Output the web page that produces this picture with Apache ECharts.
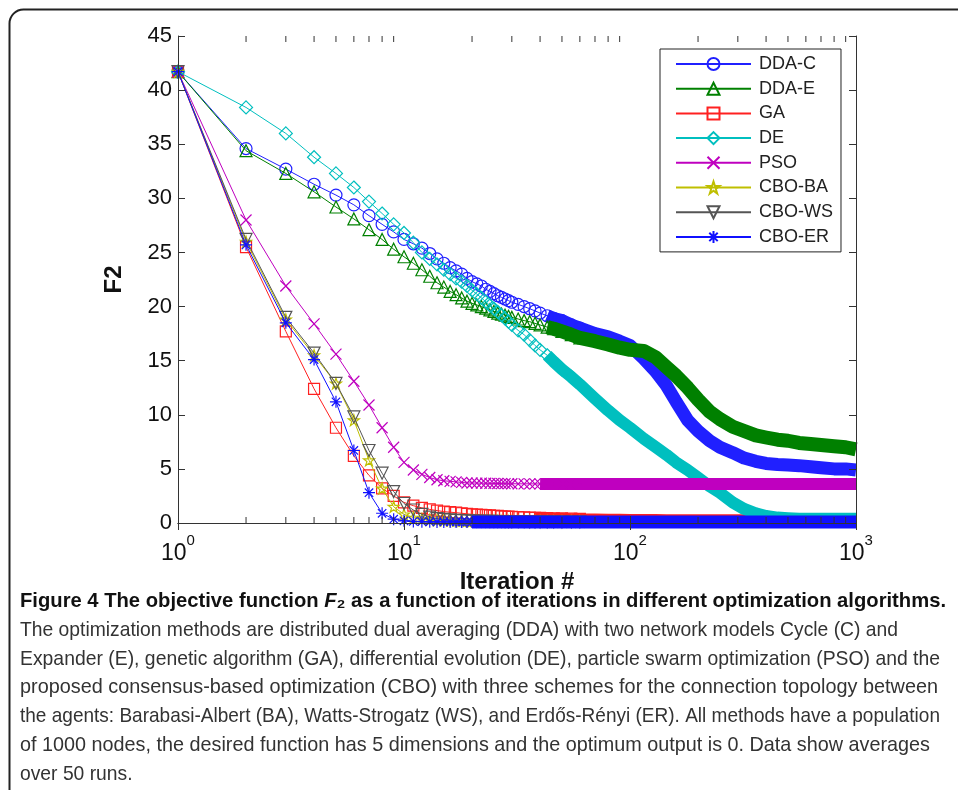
<!DOCTYPE html>
<html><head><meta charset="utf-8">
<script src="https://cdn.jsdelivr.net/npm/echarts@6/dist/echarts.min.js"></script>
<style>html,body{margin:0;padding:0;background:#fff}#c{width:958px;height:790px}</style>
</head><body><div id="c"></div>
<script>
// ---------------- data ----------------
const iterations = [1,2,3,4,5,6,7,8,9,10, 11,12,13,14,15,16,17,18,19,20,
  21,22,23,24,25,26,27,28,29,30, 32,34,36,38,40,43,46,50,55,60,
  70,80,90,100,115,130,145,160, 180,200,225,250,285,320,360,400,450,500, 560,630,700,800,900,1000];
const ddaC = [41.7,34.6,32.7,31.3,30.3,29.4,28.4,27.6,26.9,26.2, 25.8,25.4,24.9,24.4,24.0,23.6,23.3,23.0,22.6,22.3,
  22.1,21.9,21.6,21.4,21.2,21.0,20.85,20.7,20.55,20.4, 20.2,20.0,19.8,19.6,19.4,19.15,18.9,18.7,18.3,18.0,
  17.5,17.2,16.8,16.4,15.2,14.0,12.7,11.2, 9.5,8.5,7.6,7.0,6.5,6.0,5.7,5.5,5.4,5.35, 5.3,5.2,5.1,5.0,5.0,4.9];
const ddaE = [41.7,34.4,32.3,30.6,29.2,28.1,27.1,26.2,25.3,24.6, 24.0,23.4,22.8,22.2,21.8,21.4,21.1,20.8,20.5,20.3,
  20.15,20.0,19.85,19.7,19.55,19.4,19.3,19.2,19.1,19.0, 18.85,18.7,18.6,18.45,18.3,18.1,17.95,17.7,17.4,17.1,
  16.8,16.5,16.2,16.0,15.9,15.3,14.4,13.6, 12.5,11.4,10.3,9.6,8.9,8.5,8.1,7.9,7.7,7.6, 7.4,7.3,7.2,7.1,7.0,6.8];
const ga = [41.7,25.5,17.7,12.4,8.8,6.2,4.4,3.2,2.5,1.9, 1.6,1.4,1.25,1.15,1.05,1.0,0.95,0.9,0.85,0.8,
  0.78,0.75,0.72,0.7,0.67,0.65,0.62,0.6,0.58,0.57, 0.54,0.52,0.5,0.48,0.47,0.45,0.44,0.42,0.4,0.38,
  0.36,0.35,0.34,0.33,0.32,0.32,0.31,0.31, 0.3,0.3,0.3,0.3,0.3,0.3,0.3,0.3,0.3,0.3, 0.3,0.3,0.3,0.3,0.3,0.3];
const de = [41.7,38.4,36.0,33.8,32.3,31.0,29.7,28.6,27.6,26.8, 25.9,25.0,24.4,23.9,23.4,23.0,22.6,22.3,21.9,21.5,
  21.15,20.8,20.45,20.1,19.8,19.5,19.2,18.9,18.6,18.3, 17.8,17.4,16.9,16.4,16.0,15.5,14.9,14.2,13.5,12.8,
  11.5,10.4,9.5,8.8,7.8,7.0,6.3,5.6, 4.9,4.2,3.4,2.8,1.9,1.3,0.9,0.65,0.5,0.45, 0.4,0.4,0.4,0.4,0.4,0.4];
const pso = [41.7,28.0,21.9,18.4,15.6,13.1,10.9,8.8,7.0,5.6, 4.9,4.5,4.2,4.0,3.9,3.85,3.8,3.75,3.7,3.7,
  3.69,3.68,3.67,3.66,3.655,3.65,3.645,3.64,3.635,3.63, 3.62,3.62,3.62,3.61,3.61,3.6,3.6,3.6,3.6,3.6,
  3.6,3.6,3.6,3.6,3.6,3.6,3.6,3.6, 3.6,3.6,3.6,3.6,3.6,3.6,3.6,3.6,3.6,3.6, 3.6,3.6,3.6,3.6,3.6,3.6];
const cboBA = [41.7,26.0,18.8,15.5,12.9,9.5,5.8,3.2,1.5,0.8, 0.5,0.35,0.3,0.27,0.25,0.23,0.22,0.21,0.2,0.2,
  0.2,0.19,0.19,0.18,0.18,0.18,0.17,0.17,0.17,0.17, 0.16,0.16,0.16,0.16,0.16,0.15,0.15,0.15,0.15,0.15,
  0.15,0.15,0.15,0.15,0.15,0.15,0.15,0.15, 0.15,0.15,0.15,0.15,0.15,0.15,0.15,0.15,0.15,0.15, 0.15,0.15,0.15,0.15,0.15,0.15];
const cboWS = [41.7,26.2,19.0,15.7,12.9,9.8,6.7,4.6,2.9,1.8, 1.2,0.8,0.55,0.4,0.33,0.28,0.25,0.22,0.2,0.18,
  0.17,0.16,0.16,0.15,0.15,0.14,0.14,0.13,0.13,0.12, 0.12,0.12,0.11,0.11,0.11,0.1,0.1,0.1,0.1,0.1,
  0.1,0.1,0.1,0.1,0.1,0.1,0.1,0.1, 0.1,0.1,0.1,0.1,0.1,0.1,0.1,0.1,0.1,0.1, 0.1,0.1,0.1,0.1,0.1,0.1];
const cboER = [41.7,25.7,18.5,15.1,11.2,6.7,2.8,0.9,0.35,0.2, 0.15,0.12,0.11,0.1,0.1,0.1,0.1,0.1,0.1,0.1,
  0.1,0.1,0.1,0.1,0.1,0.1,0.1,0.1,0.1,0.1, 0.1,0.1,0.1,0.1,0.1,0.1,0.1,0.1,0.1,0.1,
  0.1,0.1,0.1,0.1,0.1,0.1,0.1,0.1, 0.1,0.1,0.1,0.1,0.1,0.1,0.1,0.1,0.1,0.1, 0.1,0.1,0.1,0.1,0.1,0.1];
const seriesNames = ['DDA-C','DDA-E','GA','DE','PSO','CBO-BA','CBO-WS','CBO-ER'];
const seriesValues = [ddaC, ddaE, ga, de, pso, cboBA, cboWS, cboER];
const yTickMax = 45, yTickStep = 5;
const minorTickValues = [2,3,4,5,6,7,8,9,20,30,40,50,60,70,80,90,200,300,400,500,600,700,800,900];
const xAxisTitle = 'Iteration #';
const yAxisTitle = 'F2';
const captionTitleParts = ['Figure 4 The objective function ', 'F', '\u2082 as a function of iterations in different optimization algorithms.'];
const captionLines = [
  'The optimization methods are distributed dual averaging (DDA) with two network models Cycle (C) and',
  'Expander (E), genetic algorithm (GA), differential evolution (DE), particle swarm optimization (PSO) and the',
  'proposed consensus-based optimization (CBO) with three schemes for the connection topology between',
  'the agents: Barabasi-Albert (BA), Watts-Strogatz (WS), and Erd\u0151s-R\u00e9nyi (ER). All methods have a population',
  'of 1000 nodes, the desired function has 5 dimensions and the optimum output is 0. Data show averages',
  'over 50 runs.'
];

// ---------------- styles ----------------
const FONT = '"Liberation Sans", Arial, Helvetica, sans-serif';
const styles = [
  {color:'#2020ff', symbol:'circle', size:12, band:13, markTo:60, bandFrom:43},
  {color:'#008000', symbol:'triangle', size:12, band:14, markTo:60, bandFrom:43},
  {color:'#ff2020', symbol:'rect', size:11, band:11, markTo:60, bandFrom:38},
  {color:'#00bfbf', symbol:'diamond', size:13, band:12, markTo:60, bandFrom:43},
  {color:'#bf00bf', symbol:'path://M0,0L10,10M10,0L0,10', size:11, band:12, markTo:60, bandFrom:40},
  {color:'#bfbf00', symbol:'path://M5,0L6.2,3.6L10,3.6L6.9,5.9L8.1,9.5L5,7.3L1.9,9.5L3.1,5.9L0,3.6L3.8,3.6Z', size:11, band:11, markTo:60, bandFrom:30},
  {color:'#555555', symbol:'path://M0,0L10,0L5,9Z', size:12, band:12, markTo:60, bandFrom:30},
  {color:'#1010ff', symbol:'path://M5,0L5,10M0,5L10,5M1.5,1.5L8.5,8.5M8.5,1.5L1.5,8.5', size:12, band:13, markTo:60, bandFrom:20}
];

const series = [];
seriesNames.forEach((name, i) => {
  const st = styles[i];
  const pts = iterations.map((it, k) => [it, seriesValues[i][k]]);
  series.push({
    name: name + ' band', type: 'line', clip: false, symbol: 'none', silent: true,
    data: pts.filter(p => p[0] >= st.bandFrom),
    lineStyle: {color: st.color, width: st.band, cap: 'butt', join: 'round'},
    z: 2 + i * 0.1
  });
  series.push({
    name: name, type: 'line', clip: false, silent: true,
    symbol: st.symbol, symbolSize: st.size, showAllSymbol: true,
    data: pts.filter(p => p[0] <= st.markTo),
    itemStyle: {color: 'rgba(0,0,0,0)', borderColor: st.color, borderWidth: 1.2},
    lineStyle: {color: st.color, width: 1},
    z: 2 + i * 0.1 + 0.05
  });
});

series.push({
  type: 'custom', silent: true, clip: false, z: 6,
  data: minorTickValues.map(v => [v, 0]),
  renderItem: (params, api) => {
    const b = api.coord([api.value(0), 0]);
    const t = api.coord([api.value(0), yTickMax]);
    return {type: 'group', children: [
      {type: 'line', shape: {x1: b[0], y1: b[1], x2: b[0], y2: b[1] - 6}, style: {stroke: '#333', lineWidth: 1}},
      {type: 'line', shape: {x1: t[0], y1: t[1], x2: t[0], y2: t[1] + 6}, style: {stroke: '#333', lineWidth: 1}}
    ]};
  }
});

// caption, horizontally condensed to match the narrow font of the original
const ctx = document.createElement('canvas').getContext('2d');
function tw(font, text) { ctx.font = font; return ctx.measureText(text).width; }
const bodyFont = '21px ' + FONT;
const boldFont = 'bold 21px ' + FONT;
const italicBoldFont = 'italic bold 21px ' + FONT;
const graphics = [];
graphics.push({type: 'rect', silent: true, shape: {x: 9.5, y: 9.5, width: 1000, height: 1000, r: 14},
  style: {fill: 'none', stroke: '#222', lineWidth: 2}});
const titleW = tw(boldFont, captionTitleParts[0]) + tw(italicBoldFont, captionTitleParts[1]) + tw(boldFont, captionTitleParts[2]);
graphics.push({type: 'text', x: 20, y: 601, scaleX: 926 / titleW, silent: true,
  style: {text: '{b|' + captionTitleParts[0] + '}{i|' + captionTitleParts[1] + '}{b|' + captionTitleParts[2] + '}',
    verticalAlign: 'middle',
    rich: {b: {fontFamily: FONT, fontSize: 21, fontWeight: 'bold', fill: '#111'},
           i: {fontFamily: FONT, fontSize: 21, fontWeight: 'bold', fontStyle: 'italic', fill: '#111'}}}});
const lineTargets = [878, 920, 918, 920, 910, null];
let refScale = 1;
captionLines.forEach((ln, k) => {
  const w = tw(bodyFont, ln);
  let s = lineTargets[k] ? lineTargets[k] / w : refScale;
  if (k === 0) refScale = s;
  graphics.push({type: 'text', x: 20, y: 630 + k * 28.8, scaleX: s, silent: true,
    style: {text: ln, font: bodyFont, fill: '#333', verticalAlign: 'middle'}});
});

const axisLineStyle = {color: '#333', width: 1};
const option = {
  animation: false,
  backgroundColor: '#fff',
  grid: {left: 178, right: 102, top: 36, bottom: 267, containLabel: false},
  legend: {
    orient: 'vertical', left: 660, top: 49, padding: [6, 8, 6, 15],
    itemWidth: 75, itemHeight: 15, itemGap: 6.7, selectedMode: false,
    backgroundColor: '#fff', borderColor: '#222', borderWidth: 1,
    textStyle: {fontSize: 18, fontFamily: FONT, color: '#222', lineHeight: 18, padding: [0, 0, 0, 3]},
    data: seriesNames
  },
  xAxis: [
    {type: 'log', logBase: 10, min: 1, max: 1000, z: 5,
     name: xAxisTitle, nameLocation: 'middle', nameGap: 46,
     nameTextStyle: {fontSize: 24, fontWeight: 'bold', fontFamily: FONT, color: '#111'},
     axisLine: {lineStyle: axisLineStyle}, axisTick: {inside: true, length: 7, lineStyle: axisLineStyle},
     splitLine: {show: false}, minorTick: {show: false},
     axisLabel: {margin: 10, formatter: v => '{b|10}{s|' + Math.round(Math.log10(v)) + '}',
       rich: {b: {fontSize: 23, fontFamily: FONT, color: '#111', lineHeight: 32, verticalAlign: 'bottom'},
              s: {fontSize: 15, fontFamily: FONT, color: '#111', lineHeight: 15, verticalAlign: 'top'}}}},
    {type: 'log', logBase: 10, min: 1, max: 1000, position: 'top', z: 5,
     axisLine: {lineStyle: axisLineStyle}, axisTick: {inside: true, length: 7, lineStyle: axisLineStyle},
     axisLabel: {show: false}, splitLine: {show: false}}
  ],
  yAxis: [
    {type: 'value', min: 0, max: yTickMax, interval: yTickStep, z: 5,
     name: yAxisTitle, nameLocation: 'middle', nameGap: 52,
     nameTextStyle: {fontSize: 24, fontWeight: 'bold', fontFamily: FONT, color: '#111'},
     axisLine: {show: true, lineStyle: axisLineStyle}, axisTick: {show: true, inside: true, length: 7, lineStyle: axisLineStyle},
     splitLine: {show: false},
     axisLabel: {fontSize: 22, fontFamily: FONT, color: '#111', margin: 6}},
    {type: 'value', min: 0, max: yTickMax, interval: yTickStep, position: 'right', z: 5,
     axisLine: {show: true, lineStyle: axisLineStyle}, axisTick: {show: true, inside: true, length: 7, lineStyle: axisLineStyle},
     splitLine: {show: false}, axisLabel: {show: false}}
  ],
  series: series,
  graphic: graphics
};
const chart = echarts.init(document.getElementById('c'), null, {renderer: 'canvas'});
chart.setOption(option);
</script>
</body></html>
